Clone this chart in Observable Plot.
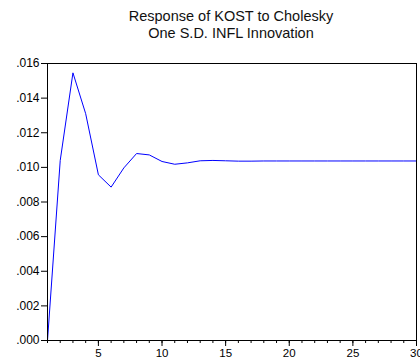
<!DOCTYPE html>
<html>
<head>
<meta charset="utf-8">
<script src="https://cdn.jsdelivr.net/npm/d3@7"></script>
<script src="https://cdn.jsdelivr.net/npm/@observablehq/plot@0.6"></script>
<style>
  body { margin: 0; background: #fff; font-family: Arial, "Liberation Sans", sans-serif; color: #000; }
  #title { width: 370px; margin-left: 46px; height: 40px; padding-top: 8px; text-align: center;
           font-size: 14.5px; line-height: 17px; color: #111; }
  #chart svg { display: block; }
</style>
</head>
<body>
<div id="title">Response of KOST to Cholesky<br>One S.D. INFL Innovation</div>
<div id="chart"></div>
<script>
const periods = [1,2,3,4,5,6,7,8,9,10,11,12,13,14,15,16,17,18,19,20,21,22,23,24,25,26,27,28,29,30];
const responses = [0.0, 0.0104, 0.01546, 0.0131, 0.00957, 0.00886, 0.00997, 0.0108, 0.01072, 0.01034,
  0.01018, 0.01026, 0.01038, 0.0104, 0.01038, 0.01036, 0.01036, 0.01037, 0.01037, 0.01037,
  0.01037, 0.01037, 0.01037, 0.01037, 0.01037, 0.01037, 0.01037, 0.01037, 0.01037, 0.01037];
const yTicks = [0, 0.002, 0.004, 0.006, 0.008, 0.010, 0.012, 0.014, 0.016];
const xMajorTicks = [5, 10, 15, 20, 25, 30];

const data = periods.map((p, i) => ({period: p, value: responses[i]}));
const fmtY = v => d3.format(".3f")(v).replace(/^0/, "");

const chart = Plot.plot({
  width: 420,
  height: 312,
  marginTop: 15,
  marginBottom: 20,
  marginLeft: 47,
  marginRight: 4,
  style: {fontFamily: "Arial, 'Liberation Sans', sans-serif", fontSize: "11px", color: "#000", background: "#fff", overflow: "visible"},
  x: {domain: [1, 30]},
  y: {domain: [0, 0.016]},
  marks: [
    Plot.axisY({ticks: yTicks, tickSize: 6, tickPadding: 2, tickFormat: fmtY, label: null, fontSize: 12}),
    Plot.axisX({ticks: periods, tickSize: 3, tickFormat: () => "", label: null}),
    Plot.axisX({ticks: xMajorTicks, tickSize: 6, tickPadding: 2, tickFormat: d => String(d), label: null, fontSize: 11.5}),
    Plot.line(data, {x: "period", y: "value", stroke: "#0000ff", strokeWidth: 1}),
    Plot.frame({stroke: "#000", strokeWidth: 1})
  ]
});
document.getElementById("chart").appendChild(chart);
</script>
</body>
</html>
